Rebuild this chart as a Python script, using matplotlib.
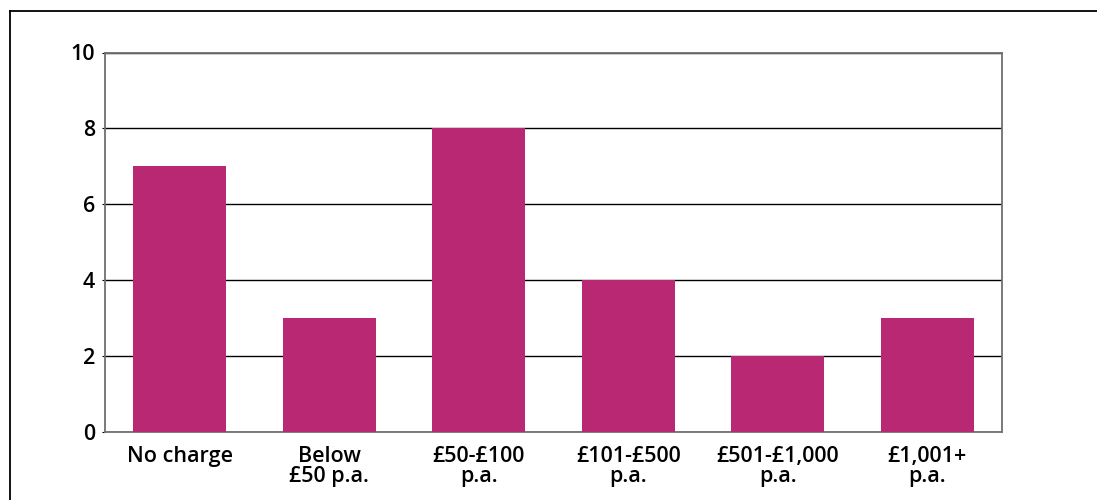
import matplotlib.pyplot as plt
from matplotlib.lines import Line2D

categories = ['No charge', 'Below\n£50 p.a.', '£50-£100\np.a.', '£101-£500\np.a.',
              '£501-£1,000\np.a.', '£1,001+\np.a.']
values = [7, 3, 8, 4, 2, 3]
y_ticks = [0, 2, 4, 6, 8, 10]

W, H = 1097, 500
fig = plt.figure(figsize=(W / 100, H / 100), dpi=100)
ax = fig.add_axes([105 / W, 1 - 432 / H, (1002 - 105) / W, (432 - 52.5) / H])

ax.bar(range(len(values)), values, width=0.625, color='#B82873', zorder=3)

ax.set_xlim(-0.5, len(values) - 0.5)
ax.set_ylim(0, 10)
ax.set_yticks(y_ticks)
ax.set_xticks(range(len(categories)))
ax.set_xticklabels(categories, linespacing=0.95)
ax.yaxis.grid(True, color='black', linewidth=1, zorder=0)
ax.set_axisbelow(True)

for s in ax.spines.values():
    s.set_color('#707070')
    s.set_linewidth(1.3)

for lbl in ax.get_xticklabels() + ax.get_yticklabels():
    lbl.set_fontfamily(['Open Sans', 'DejaVu Sans'])
    lbl.set_fontsize(15.5)
    lbl.set_fontweight('semibold')
ax.tick_params(axis='x', length=0, pad=10)
ax.tick_params(axis='y', length=2, color='black', pad=5)

# outer frame (left and top only)
fig.add_artist(Line2D([9.5 / W, 9.5 / W], [0, 1 - 10.5 / H], color='black', linewidth=1.3))
fig.add_artist(Line2D([9.5 / W, 1], [1 - 10.5 / H, 1 - 10.5 / H], color='black', linewidth=1.3))

fig.savefig('out.png', dpi=100)
